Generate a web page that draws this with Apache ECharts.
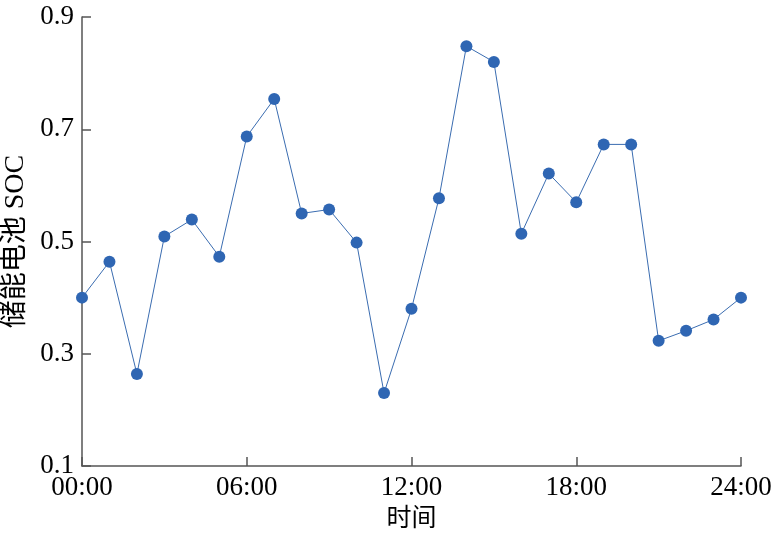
<!DOCTYPE html>
<html><head><meta charset="utf-8">
<script src="https://cdn.jsdelivr.net/npm/echarts@6/dist/echarts.min.js"></script>
<style>html,body{margin:0;padding:0;background:#fff}#c{width:774px;height:536px}</style>
</head><body><div id="c"></div>
<script>
const hours = [0,1,2,3,4,5,6,7,8,9,10,11,12,13,14,15,16,17,18,19,20,21,22,23,24];
const soc = [0.400,0.464,0.264,0.509,0.539,0.473,0.687,0.754,0.550,0.557,0.498,0.230,0.380,0.577,0.848,0.820,0.514,0.621,0.570,0.673,0.673,0.323,0.341,0.361,0.400];
const xTickLabels = {0:'00:00',6:'06:00',12:'12:00',18:'18:00',24:'24:00'};
const xName = '时间';
const yName = '储能电池 SOC';

const serif = '"Liberation Serif","Times New Roman",serif';
const mixed = '"Liberation Serif","Noto Sans CJK SC",serif';
const axisColor = '#555';
const chart = echarts.init(document.getElementById('c'));
chart.setOption({
  animation:false,
  grid:{left:82,right:33,top:17,bottom:70,containLabel:false,outerBoundsMode:'none'},
  xAxis:{type:'value',min:0,max:24,interval:6,
    name:xName,nameLocation:'middle',nameGap:41,
    nameTextStyle:{fontFamily:mixed,fontSize:25,color:'#000'},
    axisLine:{lineStyle:{color:axisColor,width:1.5}},
    axisTick:{inside:true,length:9,lineStyle:{color:axisColor,width:1.5}},
    axisLabel:{formatter:v=>xTickLabels[v],fontFamily:serif,fontSize:27,color:'#000',margin:8},
    splitLine:{show:false}},
  yAxis:{type:'value',min:0.1,max:0.9,interval:0.2,
    name:yName,nameLocation:'middle',nameGap:51,
    nameTextStyle:{fontFamily:mixed,fontSize:28,color:'#000'},
    axisLine:{show:true,lineStyle:{color:axisColor,width:1.5}},
    axisTick:{show:true,inside:true,length:9,lineStyle:{color:axisColor,width:1.5}},
    axisLabel:{formatter:v=>v.toFixed(1),fontFamily:serif,fontSize:27,color:'#000',margin:8},
    splitLine:{show:false}},
  series:[{type:'line',data:hours.map((h,i)=>[h,soc[i]]),
    symbol:'circle',symbolSize:12,
    lineStyle:{color:'#3a6cb0',width:1},
    itemStyle:{color:'#2f66b3'}}]
});
</script></body></html>
